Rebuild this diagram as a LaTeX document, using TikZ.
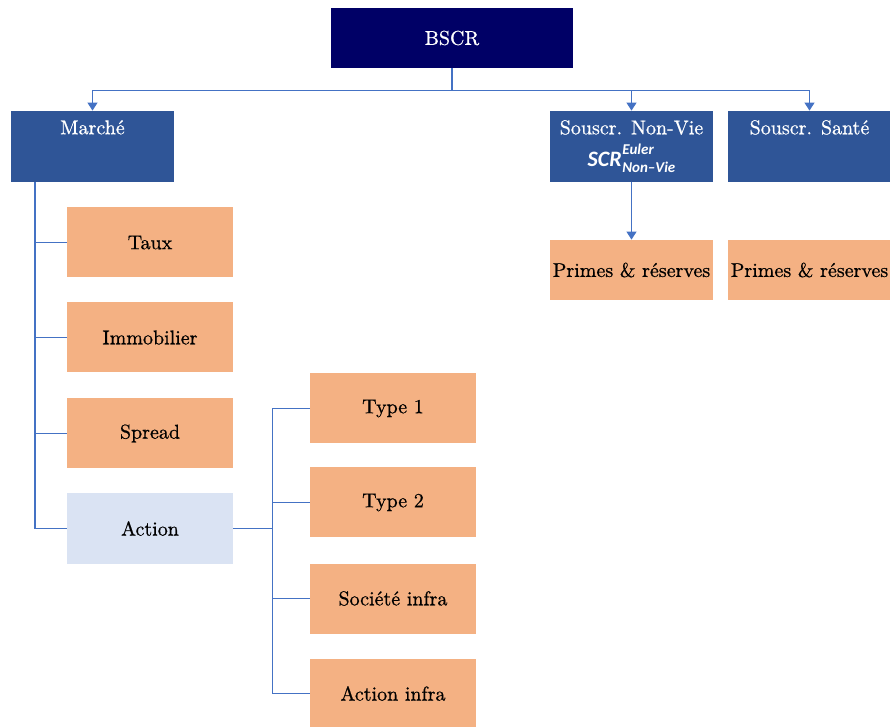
\documentclass[tikz,border=0pt]{standalone}
\usepackage{fontspec}
\setmainfont{lmroman10-regular}[Extension=.otf, FakeBold=0.7]
\newfontfamily\calib{Carlito}
\usetikzlibrary{positioning,arrows.meta}
\definecolor{navy}{HTML}{000066}
\definecolor{marineblue}{HTML}{2F5597}
\definecolor{peach}{HTML}{F4B183}
\definecolor{paleblue}{HTML}{DAE3F3}
\definecolor{linkblue}{HTML}{4472C4}
\tikzset{
  rootbox/.style={rectangle, fill=navy, text=white, minimum width=121pt, minimum height=30pt},
  headbox/.style={rectangle, fill=marineblue, text=white, minimum width=81.5pt, minimum height=35.5pt, inner xsep=1pt, align=center},
  leafbox/.style={rectangle, fill=peach, minimum width=83pt, minimum height=35pt, inner xsep=1pt},
  link/.style={draw=linkblue, line width=0.6pt},
  tip/.style={link, -{Triangle[length=4pt,width=5pt]}},
}
\newcommand{\scrfont}{\calib\bfseries\itshape}
\newcommand{\scrline}[2]{{\fontsize{11}{13}\scrfont SCR\kern0.3pt\raisebox{-3.2pt}{\fontsize{7.5}{8}\scrfont\shortstack[l]{#1\\[0.6pt]#2}}}}
\begin{document}
\begin{tikzpicture}[x=0.5pt,y=-0.5pt]
\useasboundingbox (0,0) rectangle (890,727);
\node (bscr) [rootbox] at (452,38) {BSCR};
\node (marche) [headbox] at (92.5,146.5) {Marché\\[4pt] \phantom{\scrline{Euler}{Non\textendash Vie}}};
\node (nonvie) [headbox, right of=marche, node distance=269.5pt] {Souscr. Non-Vie\\[4pt] \scrline{Euler}{Non\textendash Vie}};
\node (sante) [headbox, right of=nonvie, node distance=89pt] {Souscr. Santé\\[4pt] \phantom{\scrline{Euler}{Non\textendash Vie}}};
\node (primesnv) [leafbox, minimum width=81.5pt, minimum height=30pt, below of=nonvie, node distance=61.75pt] {Primes \& réserves};
\node (primessa) [leafbox, minimum width=81.5pt, minimum height=30pt, below of=sante, node distance=61.75pt] {Primes \& réserves};
\node (taux) [leafbox] at (150,242.5) {Taux};
\node (immo) [leafbox, below of=taux, node distance=47.5pt] {Immobilier};
\node (spread) [leafbox, below of=immo, node distance=48pt] {Spread};
\node (action) [leafbox, fill=paleblue, below of=spread, node distance=47.5pt] {Action};
\node (type1) [leafbox] at (393,408.5) {Type 1};
\node (type2) [leafbox, below of=type1, node distance=47pt] {Type 2};
\node (societe) [leafbox, below of=type2, node distance=48pt] {Société infra};
\node (actinfra) [leafbox, below of=societe, node distance=47.5pt] {Action infra};
% bus under BSCR
\draw [link] (bscr.south) -- ++(0,22) coordinate (bus);
\draw [tip] (bus) -| (marche.north);
\draw [tip] (bus) -| (nonvie.north);
\draw [tip] (bus) -| (sante.north);
\draw [tip] (nonvie) -- (primesnv);
% market sub-modules
\coordinate (mspine) at ([xshift=-28.75pt]marche.south);
\foreach \sub in {taux,immo,spread,action}
  \draw [link] (mspine) |- (\sub.west);
\coordinate (afork) at ([xshift=19.5pt]action.east);
\draw [link] (action.east) -- (afork);
\foreach \sub in {type1,type2,societe,actinfra}
  \draw [link] (afork) |- (\sub.west);
\end{tikzpicture}
\end{document}
